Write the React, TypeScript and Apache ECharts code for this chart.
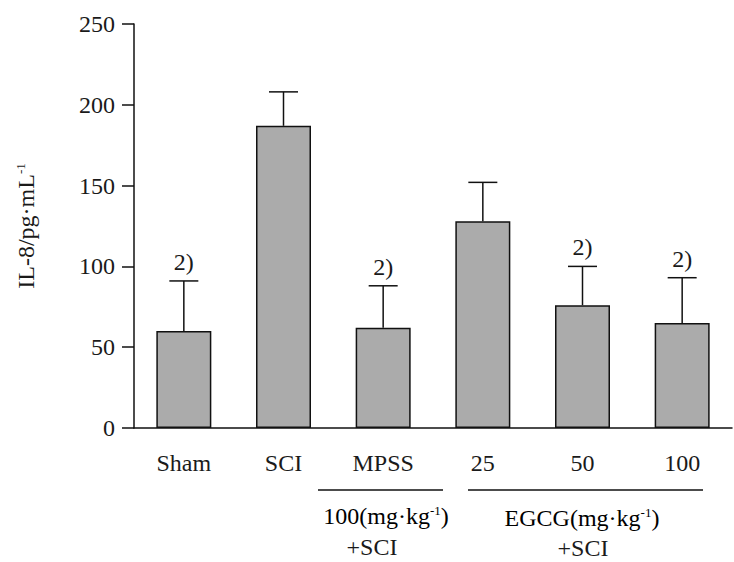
import React, { useEffect, useRef } from "react";
import * as echarts from "echarts";

const categories = ["Sham", "SCI", "MPSS", "25", "50", "100"];
const means = [60, 187, 62, 128, 76, 65];
const sds = [31, 21, 26, 24, 24, 28];
const marks = ["2)", "", "2)", "", "2)", "2)"];
const yTicks = { min: 0, max: 250, interval: 50 };

const FONT = "'Liberation Serif', 'Times New Roman', serif";
const TXT = "#1a1a1a";
const FS = 24;

export default function App() {
  const ref = useRef<HTMLDivElement>(null);
  useEffect(() => {
    if (!ref.current) return;
    const chart = echarts.init(ref.current, null, { renderer: "svg" });
    const supRich = {
      a: { fontFamily: FONT, fontSize: FS, color: TXT, lineHeight: 26 },
      s: { fontFamily: FONT, fontSize: 13, color: TXT, lineHeight: 26, verticalAlign: "top", padding: [1, 0, 6, 0] },
    };
    chart.setOption({
      animation: false,
      backgroundColor: "#ffffff",
      grid: { left: 134, right: 2, top: 24, bottom: 134, containLabel: false },
      xAxis: {
        type: "category",
        data: categories,
        axisLine: { lineStyle: { color: "#111", width: 1.5 } },
        axisTick: { alignWithLabel: true, length: 7, lineStyle: { color: "#111", width: 1.5 } },
        axisLabel: { fontFamily: FONT, fontSize: FS, color: TXT, margin: 23 },
      },
      yAxis: {
        type: "value",
        min: yTicks.min,
        max: yTicks.max,
        interval: yTicks.interval,
        name: "{a|IL-8/pg·mL}{s|-1}",
        nameLocation: "middle",
        nameGap: 95,
        nameRotate: 90,
        nameTextStyle: { rich: supRich, fontFamily: FONT, fontSize: FS, color: TXT },
        axisLine: { show: true, lineStyle: { color: "#111", width: 1.5 } },
        axisTick: { show: true, length: 12, lineStyle: { color: "#111", width: 1.5 } },
        axisLabel: { fontFamily: FONT, fontSize: FS, color: TXT, margin: 19 },
        splitLine: { show: false },
      },
      series: [
        {
          type: "bar",
          data: means,
          barWidth: 55,
          itemStyle: { color: "#ababab", borderColor: "#111", borderWidth: 1.5 },
          z: 2,
        },
        {
          type: "custom",
          z: 3,
          data: categories.map((c, i) => [i, means[i], sds[i]]),
          encode: { x: 0, y: 1 },
          renderItem: (params: any, api: any) => {
            const i = api.value(0);
            const m = api.value(1);
            const sd = api.value(2);
            const base = api.coord([i, m]);
            const top = api.coord([i, m + sd]);
            const half = 14.5;
            const children: any[] = [
              { type: "line", shape: { x1: base[0], y1: base[1], x2: top[0], y2: top[1] }, style: { stroke: "#111", lineWidth: 1.5 } },
              { type: "line", shape: { x1: top[0] - half, y1: top[1], x2: top[0] + half, y2: top[1] }, style: { stroke: "#111", lineWidth: 1.5 } },
            ];
            const mk = marks[params.dataIndex];
            if (mk) {
              children.push({
                type: "text",
                x: top[0],
                y: top[1] - 7,
                style: { text: mk, fontFamily: FONT, fontSize: FS, fill: TXT, align: "center", verticalAlign: "bottom" },
              });
            }
            return { type: "group", children };
          },
        },
      ],
      graphic: [
        { type: "line", shape: { x1: 318, y1: 490, x2: 443, y2: 490 }, style: { stroke: "#111", lineWidth: 1.5 } },
        { type: "line", shape: { x1: 468, y1: 490, x2: 703, y2: 490 }, style: { stroke: "#111", lineWidth: 1.5 } },
        {
          type: "text", x: 386, y: 516,
          style: { text: "{a|100(mg·kg}{s|-1}{a|)}", rich: supRich, align: "center", verticalAlign: "middle" },
        },
        {
          type: "text", x: 372, y: 547,
          style: { text: "+SCI", fontFamily: FONT, fontSize: FS, fill: TXT, align: "center", verticalAlign: "middle" },
        },
        {
          type: "text", x: 582, y: 518,
          style: { text: "{a|EGCG(mg·kg}{s|-1}{a|)}", rich: supRich, align: "center", verticalAlign: "middle" },
        },
        {
          type: "text", x: 583, y: 548,
          style: { text: "+SCI", fontFamily: FONT, fontSize: FS, fill: TXT, align: "center", verticalAlign: "middle" },
        },
      ],
    });
    return () => chart.dispose();
  }, []);
  return (
    <div style={{ position: "absolute", left: 0, top: 0, width: 734, height: 562, background: "#fff" }}>
      <div ref={ref} style={{ width: 734, height: 562 }} />
    </div>
  );
}
